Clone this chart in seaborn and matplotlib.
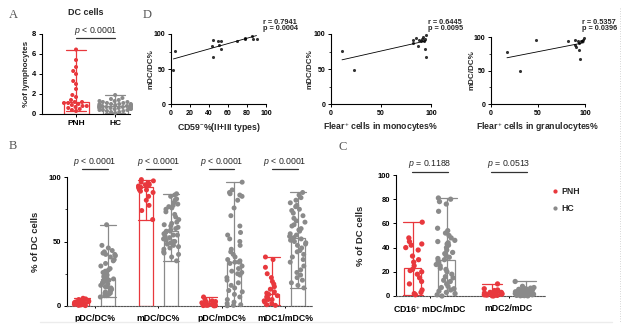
import numpy as np
import pandas as pd
import matplotlib
matplotlib.use("Agg")
import matplotlib.pyplot as plt
from matplotlib.lines import Line2D
from matplotlib.ticker import MultipleLocator
import seaborn as sns

np.random.seed(3)

# ---------------- data ----------------
groups = ["PNH", "HC"]

a_pnh = [6.45, 5.4, 4.7, 4.3, 4.0, 3.3, 3.0, 2.5, 1.9, 1.7, 1.4, 1.2, 1.2, 1.1,
         1.1, 1.0, 0.9, 0.8, 0.8, 0.7, 0.6, 0.5, 0.4, 0.3]
a_hc = [1.9, 1.6, 1.5, 1.4, 1.3, 1.3, 1.2, 1.2, 1.1, 1.1, 1.0, 1.0, 1.0, 0.9, 0.9,
        0.9, 0.9, 0.8, 0.8, 0.8, 0.8, 0.8, 0.8, 0.7, 0.7, 0.7, 0.7, 0.7, 0.6, 0.6,
        0.6, 0.6, 0.5, 0.5, 0.5, 0.4, 0.4, 0.4, 0.3, 0.3, 0.2, 0.2, 0.1, 0.9, 1.0, 0.6]
a_pvalue = "< 0.0001"

b_categories = ["pDC/DC%", "mDC/DC%", "pDC/mDC%", "mDC1/mDC%"]
b_pnh_pdc_dc = [6, 5.5, 5, 4.5, 4, 3.5, 3.2, 3, 2.8, 2.5, 2.3, 2.1, 2, 1.8, 1.6, 1.5,
                1.3, 1.1, 1, 0.8, 0.5, 0.3]
b_hc_pdc_dc = [63, 47, 45, 43, 42, 41, 40, 40, 39, 38, 36, 35, 33, 31, 29, 28, 27, 26,
               25, 24, 23, 22, 21, 21, 20, 20, 19, 19, 18, 18, 17, 16, 15, 15, 14, 13,
               12, 12, 11, 10, 10, 9, 8, 8, 7]
b_pnh_mdc_dc = [98, 97, 96, 95, 95, 94, 94, 93, 93, 92, 92, 92, 91, 90, 90, 89, 88,
                85, 82, 78, 74, 67]
b_hc_mdc_dc = [87, 86, 85, 83, 82, 80, 79, 78, 77, 76, 75, 73, 71, 69, 67, 65, 64, 63,
               62, 61, 60, 59, 58, 58, 57, 56, 55, 55, 54, 53, 52, 51, 50, 50, 49, 48,
               47, 46, 45, 44, 42, 41, 40, 38, 35]
b_pnh_pdc_mdc = [7, 5, 4, 3.5, 3, 2.5, 2.2, 2, 1.8, 1.6, 1.5, 1.3, 1.2, 1, 0.9, 0.8,
                 0.6, 0.5, 0.4, 0.3, 0.2, 0.1]
b_hc_pdc_mdc = [96, 90, 88, 87, 86, 85, 82, 76, 70, 62, 57, 55, 52, 50, 47, 44, 42, 40,
                38, 36, 35, 34, 34, 33, 31, 29, 27, 26, 25, 24, 22, 20, 18, 16, 14, 12,
                11, 9, 7, 5, 3, 2, 1, 0.5, 0.2]
b_pnh_mdc1_mdc = [38, 36, 30, 25, 22, 19, 17, 15, 13, 11, 10, 9, 8, 7, 6, 5, 5, 4, 3,
                  2, 1, 0.5]
b_hc_mdc1_mdc = [88, 86, 84, 82, 80, 78, 77, 75, 74, 72, 70, 68, 66, 65, 63, 62, 60, 59,
                 58, 56, 55, 54, 53, 52, 51, 50, 49, 48, 47, 45, 43, 42, 40, 38, 36, 34,
                 31, 28, 26, 24, 22, 20, 18, 16, 14]
b_pvalues = ["< 0.0001", "< 0.0001", "< 0.0001", "< 0.0001"]

c_categories = ["CD16$^{+}$ mDC/mDC", "mDC2/mDC"]
c_pnh_cd16 = [61, 48, 45, 43, 42, 40, 38, 33, 30, 28, 25, 22, 21, 20, 18, 15, 12, 10,
              5, 3, 2, 1]
c_hc_cd16 = [81, 80, 78, 76, 70, 56, 54, 52, 50, 48, 46, 45, 44, 43, 42, 40, 38, 36, 35,
             33, 32, 31, 30, 29, 28, 26, 25, 23, 22, 20, 18, 16, 15, 13, 12, 10, 8, 7,
             6, 5, 4, 3, 2, 1, 0]
c_pnh_mdc2 = [10, 6, 5, 4.5, 4, 3.5, 3, 3, 2.5, 2.5, 2, 2, 1.8, 1.5, 1.2, 1, 1, 0.8,
              0.5, 0.3, 0.2, 0.1]
c_hc_mdc2 = [12, 8, 7, 6.5, 6, 5.5, 5, 5, 4.5, 4.5, 4, 4, 4, 3.5, 3.5, 3.5, 3, 3, 3, 3,
             2.8, 2.5, 2.5, 2.5, 2.2, 2, 2, 2, 1.8, 1.5, 1.5, 1.2, 1, 1, 1, 0.8, 0.5,
             0.5, 0.3, 0.2, 3, 4, 2, 1.5, 0.1]
c_pvalues = ["= 0.1188", "= 0.0513"]

d1_x = [2.5, 4.3, 43, 44, 44, 49, 51, 53, 53, 69, 78, 78, 85, 86, 90]
d1_y = [49, 75.5, 82.5, 91.5, 66.5, 90, 85, 89.6, 78, 90, 94, 93, 97.6, 92.5, 93]
d2_x = [11, 22.7, 81.7, 81.7, 85.3, 86.7, 88, 89.7, 91, 92, 92.7, 94, 94.7, 94.3, 95.3]
d2_y = [76.4, 49, 91, 86.8, 94, 83.5, 92, 90.6, 93.4, 95.8, 90.6, 79, 67, 93, 98.6]
d3_x = [17, 31, 48, 82, 89.4, 89.4, 90.5, 93, 94, 94.7, 95.4, 96.5, 97.5, 99, 94]
d3_y = [77, 49.5, 95, 93.4, 96, 88, 85, 93.4, 80.8, 67, 93.4, 94.4, 95.5, 98.5, 91]
d_xlabels = ["CD59$^{-}$%(II+III types)", "Flear$^{+}$ cells in monocytes%",
             "Flear$^{+}$ cells in granulocytes%"]
d_r = ["0.7941", "0.6445", "0.5357"]
d_p = ["0.0004", "0.0095", "0.0396"]

# ---------------- style ----------------
sns.set_theme(style="ticks")
plt.rcParams["font.family"] = ["Liberation Sans", "DejaVu Sans"]
plt.rcParams["mathtext.fontset"] = "custom"
plt.rcParams["mathtext.rm"] = "Liberation Sans"
plt.rcParams["mathtext.it"] = "Liberation Sans:italic"
plt.rcParams["mathtext.bf"] = "Liberation Sans:bold"

pal = {"PNH": "#e8383d", "HC": "#8a8a8a"}
W, H = 640, 331
fig = plt.figure(figsize=(6.4, 3.31), dpi=100)
fig.patch.set_facecolor("white")


def rect(l, t, r, b):
    return [l / W, 1 - b / H, (r - l) / W, (b - t) / H]


def rng(v):
    return (np.min(v), np.max(v))


def style(ax, fs=5.5, dotted=False):
    sns.despine(ax=ax)
    for s in ["left", "bottom"]:
        ax.spines[s].set_linewidth(0.8)
        ax.spines[s].set_color("black")
    if dotted:
        ax.spines["bottom"].set_linestyle((0, (1.5, 1.2)))
        ax.spines["bottom"].set_color("#555555")
    ax.tick_params(labelsize=fs, width=0.7, length=2.5, pad=1.5, colors="black")
    ax.tick_params(which="minor", width=0.6, length=1.6)
    for lab in ax.get_xticklabels() + ax.get_yticklabels():
        lab.set_fontweight("bold")


def pval(ax, x, yt, yl, half, txt, fs=6.3):
    ax.text(x, yt, "$p$ " + txt, ha="center", va="center", fontsize=fs)
    ax.plot([x - half, x + half], [yl, yl], color="#333333", lw=0.9, clip_on=False)


def long_df(cats, pnh_lists, hc_lists):
    rows = []
    for c, p, h in zip(cats, pnh_lists, hc_lists):
        rows += [(c, "PNH", v) for v in p] + [(c, "HC", v) for v in h]
    return pd.DataFrame(rows, columns=["cat", "group", "val"])


# ---------------- panel A ----------------
axA = fig.add_axes(rect(42, 34, 130, 114))
dfA = pd.DataFrame({"group": ["PNH"] * len(a_pnh) + ["HC"] * len(a_hc),
                    "val": a_pnh + a_hc})
sns.barplot(data=dfA, x="group", y="val", hue="group", palette=pal, order=groups,
            hue_order=groups, estimator="median", errorbar=rng, fill=False,
            width=0.64, capsize=0.5, linewidth=0.9, err_kws={"linewidth": 0.9},
            legend=False, ax=axA)
sns.swarmplot(data=dfA, x="group", y="val", hue="group", palette=pal, order=groups,
              hue_order=groups, size=2.9, legend=False, ax=axA)
axA.set_xlim(-0.87, 1.38)
axA.set_ylim(0, 8)
axA.set_yticks([0, 2, 4, 6, 8])
axA.set_xlabel("")
axA.set_ylabel("%of lymphocytes", fontsize=5.8, fontweight="bold")
axA.yaxis.set_label_coords(-0.14, 0.5)
style(axA, fs=5.5)
axA.tick_params(axis="x", labelsize=6)
axA.set_title("DC cells", fontsize=6.5, fontweight="bold", pad=14)
pval(axA, 0.5, 8.3, 7.65, 0.5, a_pvalue)
for c in axA.collections:
    c.set_clip_on(False)

# ---------------- panel D ----------------
d_rects = [(171, 34, 266, 104), (331, 34, 431, 104), (491, 37, 585, 104)]
d_xs = [d1_x, d2_x, d3_x]
d_ys = [d1_y, d2_y, d3_y]
for i, (l, t, r, b) in enumerate(d_rects):
    ax = fig.add_axes(rect(l, t, r, b))
    sns.regplot(x=d_xs[i], y=d_ys[i], ci=None, ax=ax,
                scatter_kws=dict(s=5, color="black", linewidths=0),
                line_kws=dict(color="black", lw=0.6))
    ax.set_xlim(0, 100)
    ax.set_ylim(0, 100)
    ax.set_yticks([0, 50, 100])
    ax.yaxis.set_minor_locator(MultipleLocator(25))
    if i == 0:
        ax.set_xticks([0, 20, 40, 60, 80, 100])
    else:
        ax.set_xticks([0, 50, 100])
    ax.set_xlabel(d_xlabels[i], fontsize=6.3, fontweight="bold", labelpad=3)
    ax.set_ylabel("mDC/DC%", fontsize=5.8, fontweight="bold")
    ax.yaxis.set_label_coords(-0.17, 0.5)
    style(ax, fs=5)
    hh = (b - t)
    ax.text((r - 3 - l) / (r - l), (b - 22) / hh, "r = " + d_r[i], fontsize=5.3,
            fontweight="bold", transform=ax.transAxes, va="center", ha="left")
    ax.text((r - 3 - l) / (r - l), (b - 29) / hh, "p = " + d_p[i], fontsize=5.3,
            fontweight="bold", transform=ax.transAxes, va="center", ha="left")
    for c in ax.collections:
        c.set_clip_on(False)

# ---------------- panel B ----------------
axB = fig.add_axes(rect(67, 177, 313, 306))
dfB = long_df(b_categories,
              [b_pnh_pdc_dc, b_pnh_mdc_dc, b_pnh_pdc_mdc, b_pnh_mdc1_mdc],
              [b_hc_pdc_dc, b_hc_mdc_dc, b_hc_pdc_mdc, b_hc_mdc1_mdc])
sns.barplot(data=dfB, x="cat", y="val", hue="group", palette=pal, order=b_categories,
            hue_order=groups, estimator="median", errorbar=rng, fill=False,
            width=0.8, gap=0.45, capsize=0.5, linewidth=0.9,
            err_kws={"linewidth": 0.9}, legend=False, ax=axB)
sns.stripplot(data=dfB, x="cat", y="val", hue="group", palette=pal, order=b_categories,
              hue_order=groups, dodge=True, jitter=0.26, size=3.6, legend=False, ax=axB)
axB.set_xlim(-0.44, 3.44)
axB.set_ylim(0, 100)
axB.set_yticks([0, 50, 100])
axB.yaxis.set_minor_locator(MultipleLocator(25))
axB.set_xlabel("")
axB.set_ylabel("% of DC cells", fontsize=6.8, fontweight="bold")
axB.yaxis.set_label_coords(-0.11, 0.5)
style(axB, fs=5.5, dotted=True)
axB.tick_params(axis="x", labelsize=6.3, pad=4, length=1.5)
for i, t in enumerate(b_pvalues):
    pval(axB, i, 111.8, 106.2, 0.2, t)
for c in axB.collections:
    c.set_clip_on(False)

# ---------------- panel C ----------------
axC = fig.add_axes(rect(396, 175, 545, 296))
dfC = long_df(c_categories, [c_pnh_cd16, c_pnh_mdc2], [c_hc_cd16, c_hc_mdc2])
sns.barplot(data=dfC, x="cat", y="val", hue="group", palette=pal, order=c_categories,
            hue_order=groups, estimator="median", errorbar=rng, fill=False,
            width=0.86, gap=0.5, capsize=0.5, linewidth=0.9,
            err_kws={"linewidth": 0.9}, legend=False, ax=axC)
sns.stripplot(data=dfC, x="cat", y="val", hue="group", palette=pal, order=c_categories,
              hue_order=groups, dodge=True, jitter=0.24, size=3.8, ax=axC)
axC.set_xlim(-0.43, 1.46)
axC.set_ylim(0, 100)
axC.set_yticks([0, 20, 40, 60, 80, 100])
axC.set_xlabel("")
axC.set_ylabel("% of DC cells", fontsize=6.8, fontweight="bold")
axC.yaxis.set_label_coords(-0.21, 0.5)
style(axC, fs=5.5, dotted=True)
axC.tick_params(axis="x", labelsize=6.3, pad=4, length=1.5)
for i, t in enumerate(c_pvalues):
    pval(axC, i, 109.5, 102.5, 0.23, t)
for c in axC.collections:
    c.set_clip_on(False)
handles, labels = axC.get_legend_handles_labels()
leg = axC.legend(handles, labels, loc="center left",
                 bbox_to_anchor=(543 / W, 1 - 200 / H), bbox_transform=fig.transFigure,
                 frameon=False, prop={"size": 6.3, "weight": "bold"},
                 handletextpad=0.2, labelspacing=0.9, markerscale=0.8,
                 handlelength=1.0)

# ---------------- panel letters & decorations ----------------
for txt, x, y in [("A", 13, 15), ("D", 147, 15), ("B", 13, 146), ("C", 343, 147)]:
    fig.text(x / W, 1 - y / H, txt, fontsize=9, family="Liberation Serif",
             color="#555555", ha="center", va="center")
fig.add_artist(Line2D([620 / W, 620 / W], [1 - 8 / H, 1 - 322 / H],
                      color="#c8c8c8", lw=0.6, ls=(0, (1, 2))))
fig.add_artist(Line2D([40 / W, 612 / W], [1 - 322 / H, 1 - 322 / H],
                      color="#ececec", lw=1.0))

fig.savefig("out.png", dpi=100)
